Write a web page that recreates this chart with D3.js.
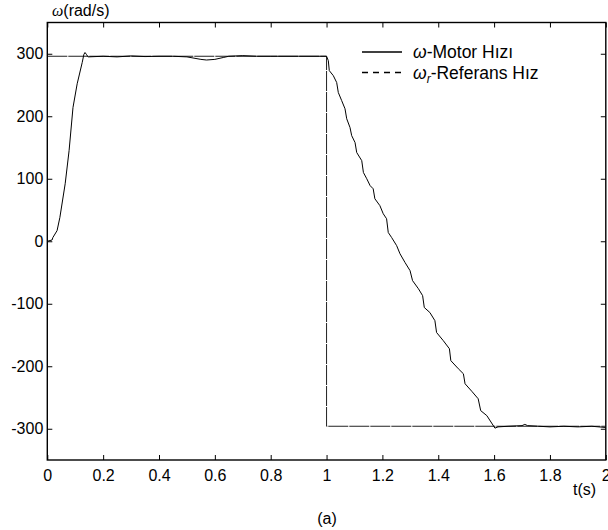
<!DOCTYPE html>
<html lang="tr">
<head>
    <meta charset="UTF-8">
    <title>Motor Hızı</title>
    <script src="https://d3js.org/d3.v7.min.js"></script>
    <style>
        body {margin: 0; background: white;}
        text {font-family: "Liberation Sans", Arial, sans-serif; fill: black;}
    </style>
</head>
<body>
<script>
    const width = 608;
    const height = 530;

    // motor speed (rad/s)
    const motorTime = [0, 0.017, 0.02, 0.035, 0.045, 0.064, 0.078, 0.092, 0.107, 0.125, 0.131, 0.135, 0.14, 0.146,
        0.2, 0.25, 0.3, 0.35, 0.4, 0.45, 0.5, 0.55, 0.57, 0.6, 0.63, 0.65, 0.7, 0.75, 0.8, 0.9, 1.0,
        1.0063, 1.0098, 1.0242, 1.0363, 1.0421, 1.0542, 1.0661, 1.0722, 1.084, 1.09, 1.102, 1.108, 1.126, 1.132,
        1.144, 1.156, 1.167, 1.173, 1.191, 1.203, 1.215, 1.221, 1.233, 1.251, 1.263, 1.281, 1.299, 1.308, 1.329,
        1.344, 1.35, 1.37, 1.388, 1.394, 1.418, 1.44, 1.445, 1.472, 1.49, 1.496, 1.52, 1.543, 1.552, 1.574,
        1.603, 1.614, 1.65, 1.7, 1.71, 1.72, 1.8, 1.85, 1.9, 1.95, 2.0];
    const motorSpeed = [0, 2, 6, 17, 38, 92, 145, 214, 252, 286, 299, 302, 299, 295,
        296, 295, 296.5, 295.5, 296, 296, 295, 291, 290, 291, 294, 296, 297, 296, 296, 296, 296,
        289, 273, 265, 254, 238, 225, 212, 196, 182, 169, 158, 142, 129, 110,
        100, 89, 84, 68, 57, 44, 36, 14, 6, -7, -20, -34, -47, -63, -76,
        -87, -106, -114, -127, -146, -159, -172, -191, -204, -212, -228, -240, -252, -271, -279,
        -299, -297, -296, -295, -293, -295, -297, -296, -297, -296, -298];

    // reference speed
    const refTime = [0, 1, 1, 2];
    const refSpeed = [296, 296, -296, -296];

    const xTicks = [0, 0.2, 0.4, 0.6, 0.8, 1, 1.2, 1.4, 1.6, 1.8, 2];
    const yTicks = [-300, -200, -100, 0, 100, 200, 300];

    const legendLabels = ["-Motor Hızı", "-Referans Hız"];

    const plot = {left: 47.3, right: 605.8, top: 22.5, bottom: 460};

    const x = d3.scaleLinear().domain([0, 2]).range([plot.left, plot.right]);
    const y = d3.scaleLinear().domain([-350, 350]).range([plot.bottom, plot.top]);

    const svg = d3.select("body").append("svg")
            .attr("width", width).attr("height", height);

    svg.append("clipPath").attr("id", "clip")
        .append("rect")
        .attr("x", plot.left).attr("y", plot.top)
        .attr("width", plot.right - plot.left).attr("height", plot.bottom - plot.top);

    const line = d3.line().x(d => x(d[0])).y(d => y(d[1]));

    const refData = refTime.map((t, i) => [t, refSpeed[i]]);
    const motorData = motorTime.map((t, i) => [t, motorSpeed[i]]);

    const lines = svg.append("g").attr("clip-path", "url(#clip)");
    lines.append("path")
        .datum(refData)
        .attr("d", line)
        .style("fill", "none")
        .style("stroke", "#222")
        .style("stroke-width", 1)
        .style("stroke-dasharray", "20,1");
    lines.append("path")
        .datum(motorData)
        .attr("d", line)
        .style("fill", "none")
        .style("stroke", "black")
        .style("stroke-width", 1);

    // axes, matlab style: ticks inward on all four sides
    const tickLen = 5;
    const fontSize = 16;
    const plain = d => String(d); // keep the plain hyphen for negatives

    const axBottom = svg.append("g").attr("transform", `translate(0,${plot.bottom})`)
        .call(d3.axisBottom(x).tickValues(xTicks).tickSizeInner(-tickLen).tickSizeOuter(0)
            .tickPadding(10).tickFormat(plain));
    const axTop = svg.append("g").attr("transform", `translate(0,${plot.top})`)
        .call(d3.axisTop(x).tickValues(xTicks).tickSizeInner(-tickLen).tickSizeOuter(0).tickFormat(""));
    const axLeft = svg.append("g").attr("transform", `translate(${plot.left},0)`)
        .call(d3.axisLeft(y).tickValues(yTicks).tickSizeInner(-tickLen).tickSizeOuter(0)
            .tickPadding(4).tickFormat(plain));
    const axRight = svg.append("g").attr("transform", `translate(${plot.right},0)`)
        .call(d3.axisRight(y).tickValues(yTicks).tickSizeInner(-tickLen).tickSizeOuter(0).tickFormat(""));

    [axBottom, axTop, axLeft, axRight].forEach(g => {
        g.select(".domain").remove();
        g.selectAll("line").style("stroke", "black").style("stroke-width", 1);
        g.selectAll("text")
            .style("font-family", "'Liberation Sans', Arial, sans-serif")
            .style("font-size", fontSize + "px")
            .style("fill", "black");
    });
    axLeft.selectAll("text").attr("x", -4);

    svg.append("rect")
        .attr("x", plot.left).attr("y", plot.top)
        .attr("width", plot.right - plot.left).attr("height", plot.bottom - plot.top)
        .style("fill", "none")
        .style("stroke", "black")
        .style("stroke-width", 1.4);

    // axis titles
    const yTitle = svg.append("text")
        .attr("x", 52).attr("y", 16)
        .style("font-size", fontSize + "px");
    yTitle.append("tspan").text("ω")
        .style("font-family", "'Liberation Serif', serif")
        .style("font-style", "italic");
    yTitle.append("tspan").text("(rad/s)");

    svg.append("text")
        .attr("x", 573).attr("y", 495)
        .style("font-size", fontSize + "px")
        .text("t(s)");

    svg.append("text")
        .attr("x", 327).attr("y", 524)
        .attr("text-anchor", "middle")
        .style("font-size", fontSize + "px")
        .text("(a)");

    // legend
    const legendSize = 17.5;
    const legend = svg.append("g").attr("class", "legend");
    const legendRows = [
        {y: 52, dash: null, sub: null, label: legendLabels[0]},
        {y: 72.5, dash: "6,5", sub: "r", label: legendLabels[1]}
    ];
    legendRows.forEach(r => {
        legend.append("line")
            .attr("x1", 362).attr("x2", 402)
            .attr("y1", r.y).attr("y2", r.y)
            .style("stroke", "black")
            .style("stroke-width", 1.6)
            .style("stroke-dasharray", r.dash);
        const t = legend.append("text")
            .attr("x", 413).attr("y", r.y + 6)
            .style("font-size", legendSize + "px");
        t.append("tspan").text("ω").style("font-style", "italic");
        if (r.sub) {
            t.append("tspan").text(r.sub)
                .style("font-style", "italic")
                .style("font-size", "12px")
                .attr("dy", 4);
            t.append("tspan").text(r.label).attr("dy", -4);
        } else {
            t.append("tspan").text(r.label);
        }
    });
</script>
</body>
</html>
